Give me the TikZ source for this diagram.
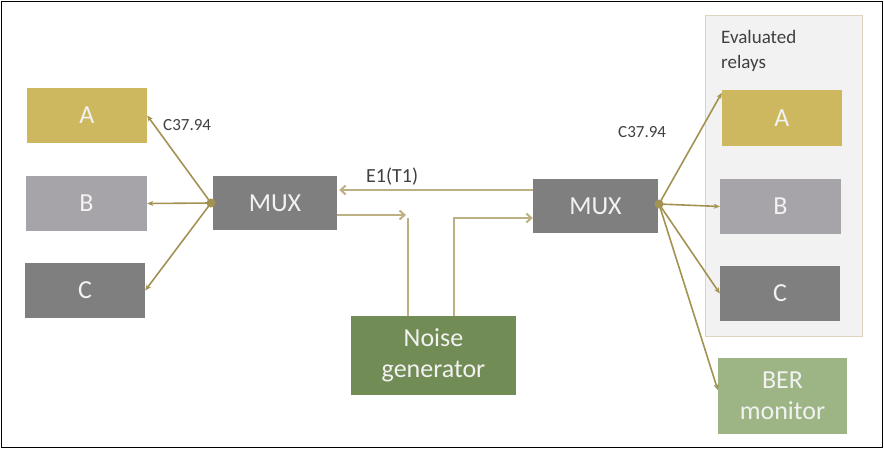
\documentclass[tikz,border=0pt]{standalone}
\usepackage{fontspec}
\setmainfont{Carlito}
\usetikzlibrary{arrows.meta,calc}
\definecolor{cgold}{HTML}{CDB860}
\definecolor{clight}{HTML}{A6A4A9}
\definecolor{cdark}{HTML}{7F7F7F}
\definecolor{cgreen}{HTML}{728C55}
\definecolor{clgreen}{HTML}{9DB484}
\definecolor{cline}{HTML}{A39353}
\definecolor{cline2}{HTML}{BDB084}
\definecolor{cpanel}{HTML}{F2F2F2}
\definecolor{cpanelb}{HTML}{DDD6BE}
\definecolor{ctext}{HTML}{404040}
\tikzset{
  box/.style={rectangle, inner sep=0pt, text=white!95!black, font=\fontsize{26}{29}\selectfont, align=center},
  lbl/.style={text=ctext, inner sep=0pt},
  rel/.style={draw=cline, line width=1.6pt, -{Stealth[length=6pt,width=5pt]}},
  sig/.style={draw=cline2, line width=2pt},
  sigarrow/.style={sig, -{Straight Barb[length=5pt,width=9pt]}},
}
\begin{document}
\begin{tikzpicture}[x=1pt,y=-1pt]
\useasboundingbox (0,0) rectangle (884,450);
\fill[white] (0,0) rectangle (884,450);
\draw[black, line width=1.5pt] (1.5,1.5) rectangle (882.5,447.5);

% panel
\node[draw=cpanelb, fill=cpanel, line width=1pt, minimum width=157pt, minimum height=321pt, inner sep=0pt] (panel) at (783.5,175.5) {};
\node[lbl, anchor=north west, align=left, font=\fontsize{19}{25}\selectfont] (evtitle) at (721,30) {Evaluated\\relays};

% left relays
\node[box, fill=cgold, minimum width=120pt, minimum height=55pt] (A) at (87,115.5) {A};
\node[box, fill=clight, minimum width=121pt, minimum height=55pt] (B) at (86.5,203.5) {B};
\node[box, fill=cdark, minimum width=120pt, minimum height=55pt] (C) at (85,290.5) {C};

% muxes
\node[box, fill=cdark, minimum width=124pt, minimum height=54pt] (muxl) at (275,203) {MUX};
\node[box, fill=cdark, minimum width=125pt, minimum height=54pt] (muxr) at (595.5,206) {MUX};

% noise generator
\node[box, fill=cgreen, minimum width=165pt, minimum height=79pt, font=\fontsize{26}{31}\selectfont] (noise) at (433.5,355.5) {Noise\\generator};

% right relays
\node[box, fill=cgold, minimum width=120pt, minimum height=56pt] (RA) at (782,118) {A};
\node[box, fill=clight, minimum width=121pt, minimum height=55pt] (RB) at (780.5,206.5) {B};
\node[box, fill=cdark, minimum width=120pt, minimum height=55pt] (RC) at (780,293.5) {C};
\node[box, fill=clgreen, minimum width=129pt, minimum height=76pt, font=\fontsize{26}{31}\selectfont] (ber) at (782.5,396) {BER\\monitor};

% labels
\node[lbl, anchor=west, font=\fontsize{17}{20}\selectfont] (lc1) at (163,125) {C37.94};
\node[lbl, anchor=west, font=\fontsize{17}{20}\selectfont] (lc2) at (618,132) {C37.94};
\node[lbl, anchor=west, font=\fontsize{20}{24}\selectfont] (le1) at (366,177) {E1(T1)};

% junction dots
\coordinate (dl) at (211,203);
\coordinate (dr) at (659,204);

% left fan-out
\draw[rel] (dl) -- (A.east);
\draw[rel] (dl) -- (B.east);
\draw[rel] (dl) -- (C.east);
\fill[cline] (dl) circle (4.5pt);

% right fan-out
\draw[rel] (dr) -- ($(RA.north west)+(0,3)$);
\draw[rel] (dr) -- (RB.west);
\draw[rel] (dr) -- (RC.west);
\draw[rel] (dr) -- ($(ber.west)+(0,-6)$);
\fill[cline] (dr) circle (4.5pt);

% E1 link
\draw[sigarrow] ($(muxr.west)+(0,-16)$) -- ($(muxl.east)+(2,-13)$);

% noise insertion
\coordinate (t1) at (406,215);
\draw[sigarrow] ($(muxl.east)+(0,12)$) -- (t1);
\draw[sig] ($(noise.north)+(-26,0)$) -- ($(noise.north)+(-26,-98)$);
\draw[sigarrow] ($(noise.north)+(20,0)$) |- ($(muxr.west)+(0,12)$);
\end{tikzpicture}
\end{document}
